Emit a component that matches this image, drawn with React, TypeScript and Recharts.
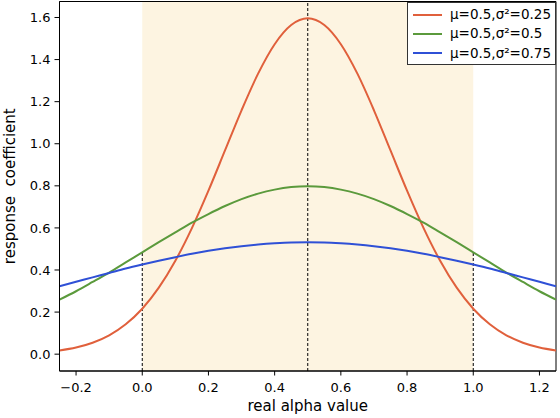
import React from 'react';
import {
  LineChart,
  Line,
  XAxis,
  YAxis,
  ReferenceArea,
  ReferenceLine,
} from 'recharts';

const xValues = [
  -0.25, -0.2, -0.15, -0.1, -0.05, 0, 0.05, 0.1, 0.15, 0.2, 0.25, 0.3, 0.35, 0.4, 0.45, 0.5,
  0.55, 0.6, 0.65, 0.7, 0.75, 0.8, 0.85, 0.9, 0.95, 1.0, 1.05, 1.1, 1.15, 1.2, 1.25,
];

const redValues = [
  0.0177, 0.0316, 0.0543, 0.0895, 0.142, 0.216, 0.316, 0.444, 0.599, 0.777, 0.968, 1.159, 1.333, 1.473, 1.564, 1.596,
  1.564, 1.473, 1.333, 1.159, 0.968, 0.777, 0.599, 0.444, 0.316, 0.216, 0.142, 0.0895, 0.0543, 0.0316, 0.0177,
];

const greenValues = [
  0.259, 0.299, 0.343, 0.388, 0.436, 0.484, 0.532, 0.579, 0.625, 0.666, 0.704, 0.737, 0.763, 0.782, 0.794, 0.798,
  0.794, 0.782, 0.763, 0.737, 0.704, 0.666, 0.625, 0.579, 0.532, 0.484, 0.436, 0.388, 0.343, 0.299, 0.259,
];

const blueValues = [
  0.323, 0.344, 0.365, 0.386, 0.407, 0.426, 0.444, 0.461, 0.477, 0.491, 0.503, 0.513, 0.521, 0.527, 0.531, 0.532,
  0.531, 0.527, 0.521, 0.513, 0.503, 0.491, 0.477, 0.461, 0.444, 0.426, 0.407, 0.386, 0.365, 0.344, 0.323,
];

const xTicks = [-0.2, 0, 0.2, 0.4, 0.6, 0.8, 1.0, 1.2];
const yTicks = [0, 0.2, 0.4, 0.6, 0.8, 1.0, 1.2, 1.4, 1.6];

const seriesNames = ['μ=0.5,σ²=0.25', 'μ=0.5,σ²=0.5', 'μ=0.5,σ²=0.75'];
const seriesKeys = ['red', 'green', 'blue'];
const seriesColors = ['#e0603c', '#5b9a3c', '#2f50d6'];

const edgeValue = 0.484;

const data = xValues.map((x, i) => ({
  x,
  red: redValues[i],
  green: greenValues[i],
  blue: blueValues[i],
}));

const fmt = (v: number) => {
  const s = Math.abs(v).toFixed(1);
  return v < -1e-9 ? '\u2212' + s : s;
};

const FONT = '"DejaVu Sans", sans-serif';

function LegendBox() {
  return (
    <div
      style={{
        position: 'absolute',
        left: 407,
        top: 1.5,
        boxSizing: 'border-box',
        width: 149,
        height: 63,
        border: '1px solid #333',
        background: '#fff',
        paddingTop: 2.5,
        fontFamily: FONT,
        fontSize: 13.5,
        color: '#000',
      }}
    >
      {seriesNames.map((n, i) => (
        <div key={n} style={{ height: 19.3, display: 'flex', alignItems: 'center' }}>
          <div style={{ marginLeft: 4.7, width: 29, height: 2, background: seriesColors[i] }} />
          <span style={{ marginLeft: 8.3, whiteSpace: 'nowrap', lineHeight: '19px' }}>{n}</span>
        </div>
      ))}
    </div>
  );
}

export default function App() {
  return (
    <div style={{ position: 'absolute', left: 0, top: 0, width: 560, height: 418, background: '#fff' }}>
      <LineChart
        width={560}
        height={418}
        data={data}
        margin={{ top: 1.5, right: 4, bottom: 0, left: 0 }}
        style={{ fontFamily: FONT }}
      >
        <ReferenceArea x1={0} x2={1} fill="#fdf4e1" fillOpacity={1} stroke="none" />
        <XAxis
          dataKey="x"
          type="number"
          domain={[-0.25, 1.25]}
          ticks={xTicks}
          allowDataOverflow
          tickFormatter={fmt}
          height={47}
          tickSize={4.5}
          tickMargin={7}
          axisLine={{ stroke: '#000' }}
          tickLine={{ stroke: '#000' }}
          tick={{ fill: '#000', fontSize: 13 }}
          label={{ value: 'real alpha value', position: 'insideBottom', offset: 7, style: { fontSize: 15, fill: '#000' } }}
        />
        <YAxis
          type="number"
          domain={[-0.08, 1.676]}
          ticks={yTicks}
          allowDataOverflow
          tickFormatter={fmt}
          width={59.5}
          tickSize={5}
          tickMargin={4}
          axisLine={{ stroke: '#000' }}
          tickLine={{ stroke: '#000' }}
          tick={{ fill: '#000', fontSize: 13 }}
          label={{
            value: 'response\u00a0 coefficient',
            angle: -90,
            position: 'insideLeft',
            offset: 10,
            style: { textAnchor: 'middle', fontSize: 15, fill: '#000' },
          }}
        />
        <ReferenceLine
          segment={[{ x: 0, y: -0.08 }, { x: 0, y: edgeValue }]}
          stroke="#000"
          strokeWidth={1}
          strokeDasharray="3 2"
        />
        <ReferenceLine
          segment={[{ x: 1, y: -0.08 }, { x: 1, y: edgeValue }]}
          stroke="#000"
          strokeWidth={1}
          strokeDasharray="3 2"
        />
        <ReferenceLine x={0.5} stroke="#000" strokeWidth={1} strokeDasharray="3 2" />
        {seriesKeys.map((k, i) => (
          <Line
            key={k}
            type="monotone"
            dataKey={k}
            name={seriesNames[i]}
            stroke={seriesColors[i]}
            strokeWidth={2}
            dot={false}
            activeDot={false}
            isAnimationActive={false}
          />
        ))}
        <ReferenceArea x1={-0.25} x2={1.25} y1={-0.08} y2={1.676} fill="none" stroke="#000" strokeWidth={1} />
      </LineChart>
      <LegendBox />
    </div>
  );
}
